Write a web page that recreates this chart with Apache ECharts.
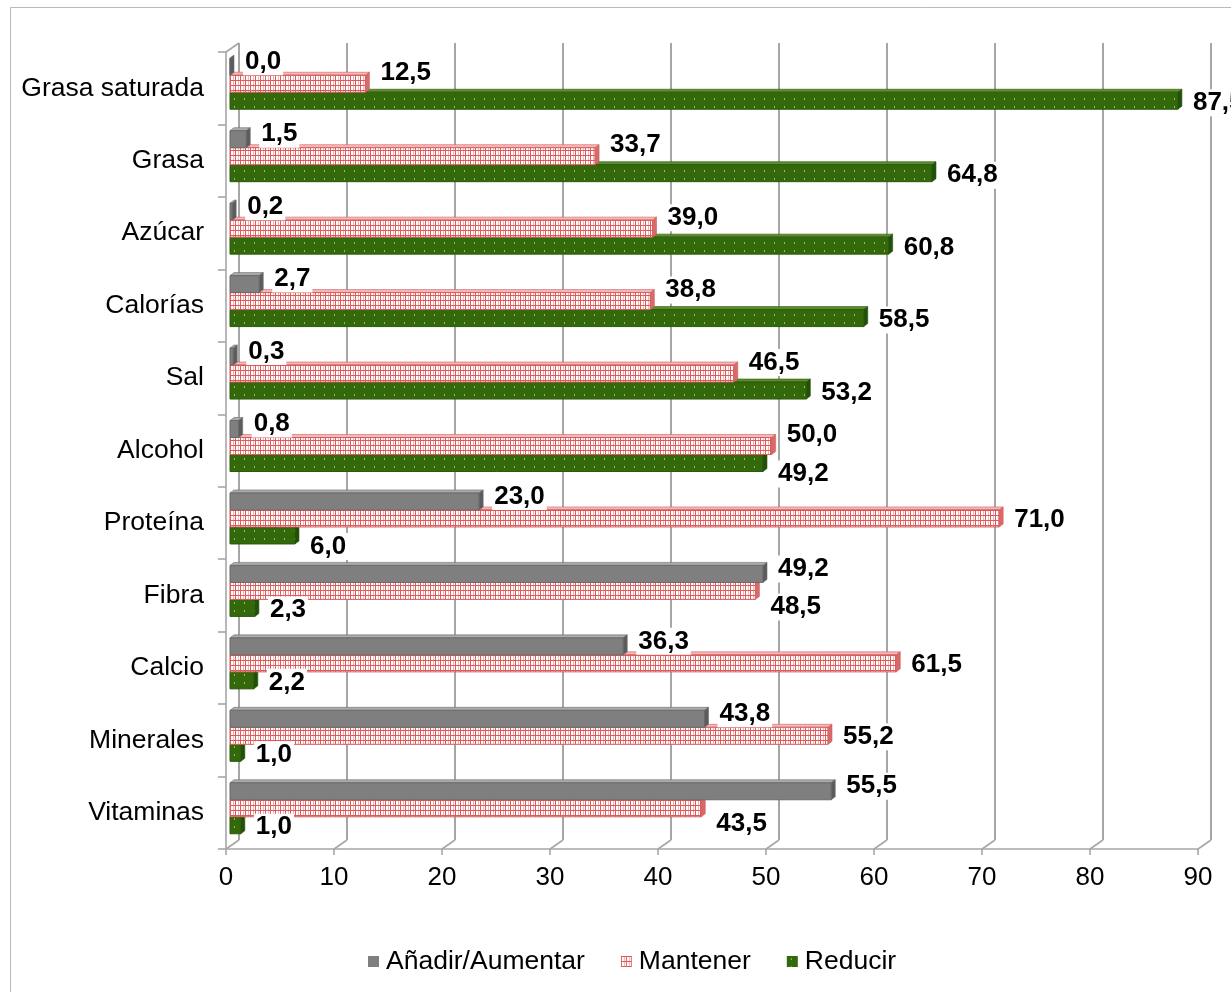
<!DOCTYPE html>
<html>
<head>
<meta charset="utf-8">
<script src="https://cdn.jsdelivr.net/npm/echarts@6/dist/echarts.min.js"></script>
<style>
  html, body { margin: 0; padding: 0; background: #fff; }
  #chart { width: 1231px; height: 992px; }
</style>
</head>
<body>
<div id="chart"></div>
<script>
// Categories (top to bottom) and the three answer groups, in percent
const categories = ['Grasa saturada', 'Grasa', 'Azúcar', 'Calorías', 'Sal', 'Alcohol',
                    'Proteína', 'Fibra', 'Calcio', 'Minerales', 'Vitaminas'];
const anadirAumentar = [0.0, 1.5, 0.2, 2.7, 0.3, 0.8, 23.0, 49.2, 36.3, 43.8, 55.5];
const mantener       = [12.5, 33.7, 39.0, 38.8, 46.5, 50.0, 71.0, 48.5, 61.5, 55.2, 43.5];
const reducir        = [87.5, 64.8, 60.8, 58.5, 53.2, 49.2, 6.0, 2.3, 2.2, 1.0, 1.0];
const seriesNames = ['Añadir/Aumentar', 'Mantener', 'Reducir'];
const xTicks = [0, 10, 20, 30, 40, 50, 60, 70, 80, 90];

const FONT = '"Liberation Sans", Arial, Helvetica, sans-serif';
const BAR = 17;          // bar thickness
const DX = 4, DY = 3;    // bar depth
const WX = 13, WY = 9;   // front plane -> back wall offset
const FRAME = '#a6a6a6';

function tile(w, h, draw) {
  const c = document.createElement('canvas');
  c.width = w; c.height = h;
  draw(c.getContext('2d'));
  return c;
}
const redTile = tile(5, 5, g => {
  g.fillStyle = '#ffffff'; g.fillRect(0, 0, 5, 5);
  g.fillStyle = '#e05a5a'; g.fillRect(0, 0, 1, 5); g.fillRect(0, 0, 5, 1);
  g.fillStyle = '#f2b4b4'; g.fillRect(3, 1, 1, 4);
});
const greenTile = tile(10, 8, g => {
  g.fillStyle = '#33680b'; g.fillRect(0, 0, 10, 8);
  g.fillStyle = '#97b86a'; g.fillRect(4, 2, 1, 2);
});
const redFill = { image: redTile, repeat: 'repeat' };
const greenFill = { image: greenTile, repeat: 'repeat' };

const tones = [
  { front: '#7f7f7f', top: '#ababab', side: '#5c5c5c', edge: '#6b6b6b' },
  { front: redFill,   top: '#f2b9b9', side: '#d86a6a', edge: '#d45c5c' },
  { front: greenFill, top: '#5d8b2e', side: '#21500a', edge: '#2b5a0b' }
];
const values = [anadirAumentar, mantener, reducir];

function fmt(v) { return v.toFixed(1).replace('.', ','); }

// one 3D bar: front face, top face and end face
function barRenderer(slot) {
  const t = tones[slot];
  return function (params, api) {
    const v = api.value(0), c = api.value(1);
    const p0 = api.coord([0, c]);
    const p1 = api.coord([v, c]);
    const x0 = p0[0], x1 = p1[0];
    const y = p0[1] + (slot - 1) * BAR - BAR / 2;
    return {
      type: 'group',
      children: [
        { type: 'polygon', shape: { points: [[x0, y], [x1, y], [x1 + DX, y - DY], [x0 + DX, y - DY]] },
          style: { fill: t.top, stroke: t.edge, lineWidth: 0.6 } },
        { type: 'rect', shape: { x: x0, y: y, width: Math.max(x1 - x0, 0), height: BAR },
          style: { fill: t.front, stroke: t.edge, lineWidth: 1 } },
        { type: 'polygon', shape: { points: [[x1, y], [x1 + DX, y - DY], [x1 + DX, y + BAR - DY], [x1, y + BAR]] },
          style: { fill: t.side, stroke: t.edge, lineWidth: 0.6 } }
      ]
    };
  };
}

// vertical nudge of a value label, chosen from the neighbouring bars
function labelShift(s, i) {
  const a = anadirAumentar[i], m = mantener[i], r = reducir[i];
  if (s === 0) return -5;
  if (s === 1) {
    if (a > m) return 16;
    return a < 5 ? -11 : 1;
  }
  return (r > 5 && m > r) ? 11 : 2;
}

// value labels on white boxes, right of each bar end
function labelRenderer(params, api) {
  const i = api.value(0);
  const children = [];
  for (let s = 0; s < 3; s++) {
    const v = values[s][i];
    const p0 = api.coord([0, i]);
    const p1 = api.coord([v, i]);
    const yc = p0[1] + (s - 1) * BAR;
    children.push({
      type: 'text',
      style: {
        text: fmt(v), x: p1[0] + DX + 9, y: yc + labelShift(s, i),
        fill: '#000', font: 'bold 26px ' + FONT,
        align: 'left', verticalAlign: 'middle',
        backgroundColor: '#ffffff', padding: [1, 2, 0, 2]
      }
    });
  }
  return { type: 'group', children };
}

// slanted edges joining the front axes to the back wall
function frameRenderer(params, api) {
  const cs = params.coordSys;
  const bottom = cs.y + cs.height;
  const x = api.coord([api.value(0), 0])[0];
  const children = [
    { type: 'line', shape: { x1: x, y1: bottom, x2: x + WX, y2: bottom - WY },
      style: { stroke: FRAME, lineWidth: 1.6 } }
  ];
  if (api.value(0) === 0) {
    children.push({ type: 'line', shape: { x1: x, y1: cs.y, x2: x + WX, y2: cs.y - WY },
      style: { stroke: FRAME, lineWidth: 1.6 } });
  }
  return { type: 'group', children };
}

const frontLeft = 226, plotW = 972, frontTop = 52, plotH = 797;

const chart = echarts.init(document.getElementById('chart'), null, { renderer: 'canvas' });
chart.setOption({
  animation: false,
  backgroundColor: '#ffffff',
  textStyle: { fontFamily: FONT },
  graphic: [{
    type: 'rect', silent: true, z: -10,
    shape: { x: 10.5, y: 7.5, width: 1400, height: 1200 },
    style: { fill: 'none', stroke: '#b9b9b9', lineWidth: 1 }
  }],
  grid: [
    { left: frontLeft, top: frontTop, width: plotW, height: plotH, outerBoundsMode: 'none' },
    { left: frontLeft + WX, top: frontTop - WY, width: plotW, height: plotH, outerBoundsMode: 'none' },
    { left: 230, top: 47.5, width: 975, height: plotH, outerBoundsMode: 'none' }
  ],
  xAxis: [
    { gridIndex: 0, type: 'value', min: 0, max: 90, interval: 10,
      axisLine: { show: true, lineStyle: { color: FRAME, width: 1.6 } },
      axisTick: { show: true, length: 6, lineStyle: { color: FRAME, width: 1.6 } },
      axisLabel: { fontSize: 26, color: '#000', margin: 16, fontFamily: FONT },
      splitLine: { show: false } },
    { gridIndex: 1, type: 'value', min: 0, max: 90, interval: 10,
      axisLine: { show: false }, axisTick: { show: false }, axisLabel: { show: false },
      splitLine: { show: true, lineStyle: { color: FRAME, width: 2 } } },
    { gridIndex: 2, type: 'value', min: 0, max: 90, show: false }
  ],
  yAxis: [
    { gridIndex: 0, type: 'category', data: categories, inverse: true,
      axisLine: { show: true, lineStyle: { color: FRAME, width: 1.6 } },
      axisTick: { show: true, length: 8, lineStyle: { color: FRAME, width: 1.6 } },
      axisLabel: { fontSize: 26.5, color: '#000', margin: 22, fontFamily: FONT },
      splitLine: { show: false } },
    { gridIndex: 1, type: 'category', data: categories, inverse: true,
      axisLine: { show: false }, axisTick: { show: false }, axisLabel: { show: false },
      splitLine: { show: false } },
    { gridIndex: 2, type: 'category', data: categories, inverse: true, show: false }
  ],
  legend: {
    left: 363, top: 943,
    icon: 'rect', itemWidth: 11, itemHeight: 11, itemGap: 36,
    textStyle: { fontSize: 26.5, color: '#000', fontFamily: FONT, padding: [0, 0, 0, 2] },
    data: [
      { name: seriesNames[0], itemStyle: { color: '#7f7f7f' } },
      { name: seriesNames[1], itemStyle: { color: redFill } },
      { name: seriesNames[2], itemStyle: { color: greenFill } }
    ]
  },
  series: [
    { type: 'custom', name: 'frame', xAxisIndex: 0, yAxisIndex: 0, z: 1, silent: true,
      renderItem: frameRenderer, data: xTicks.map(t => [t]), encode: { x: 0 } },
    ...[2, 1, 0].map(s => ({
      type: 'custom', name: seriesNames[s], xAxisIndex: 2, yAxisIndex: 2, z: 3 + (2 - s),
      itemStyle: { color: s === 0 ? '#7f7f7f' : (s === 1 ? redFill : greenFill) },
      renderItem: barRenderer(s),
      encode: { x: 0, y: 1 },
      data: values[s].map((v, i) => [v, i])
    })),
    { type: 'custom', name: 'labels', xAxisIndex: 2, yAxisIndex: 2, z: 10, silent: true,
      renderItem: labelRenderer, encode: { y: 0 },
      data: categories.map((_, i) => [i]) }
  ]
});
</script>
</body>
</html>
